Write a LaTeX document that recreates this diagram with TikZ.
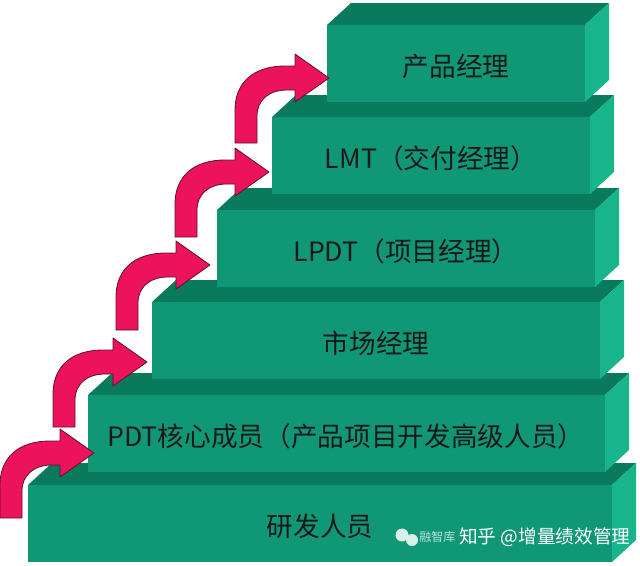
\documentclass[tikz,border=0pt]{standalone}
\usepackage{fontspec}
\setmainfont{Noto Sans CJK SC}
\usepackage{tikz}

\definecolor{frontgreen}{RGB}{16,152,118}
\definecolor{topgreen}{RGB}{10,122,92}
\definecolor{sidegreen}{RGB}{24,180,140}
\definecolor{arrowpink}{RGB}{236,18,92}
\definecolor{arrowline}{RGB}{90,20,45}

\begin{document}
\begin{tikzpicture}[x=0.75pt, y=-0.75pt,
	every node/.style={inner sep=0pt, font=\fontsize{20}{24}\selectfont, text=black!90},
	stair/.style={draw=none, fill=frontgreen},
	stairtop/.style={draw=none, fill=topgreen},
	stairside/.style={draw=none, fill=sidegreen},
	uparrow/.style={fill=arrowpink, draw=arrowline, line width=0.6pt, line join=round},
	watermark/.style={text=white, font=\fontsize{13}{15}\selectfont}]
				\useasboundingbox (0,0) rectangle (640,565);
				
				\foreach \l/\r/\t in {28/612/485, 88/605/395, 152/600/302, 217/595/210, 272/590/117, 327/585/25}{
					\path[stairtop] (\l,\t) -- (\l+24,\t-22) -- (\r+24,\t-22) -- (\r,\t) -- cycle;
					\path[stairside] (\r,\t) -- (\r+24,\t-22) -- (\r+24,\t+55) -- (\r,\t+77) -- cycle;
					\path[stair] (\l,\t) rectangle (\r,\t+77);
				}
				
				\node (pm) at (456,66) {产品经理};
				\node (lmt) at (431,158) {LMT（交付经理）};
				\node (lpdt) at (406,251) {LPDT（项目经理）};
				\node (mkt) at (376,343) {市场经理};
				\node (pdt) at (346,436) {PDT核心成员（产品项目开发高级人员）};
				\node (rd) at (320,526) {研发人员};
				
				\foreach \x/\y in {0/453, 53/362, 116/265, 175/172, 235/78}{
					\begin{scope}[shift={(\x,\y)}]
						\path[uparrow] (0,65) -- (0,32) .. controls (0,5) and (18,-12) .. (50,-12) -- (60,-12) -- (60,-24) -- (94,0) -- (60,24) -- (60,12) -- (52,12) .. controls (34,12) and (22,22) .. (22,38) -- (22,65) -- cycle;
					\end{scope}
				}
				
				\fill[white, opacity=0.85] (402,535) circle (6.5) (412,540) circle (6);
				\node[watermark, anchor=west, opacity=0.7, font=\fontsize{9}{11}\selectfont] (wx) at (419,537) {融智库};
				\node[watermark, anchor=west, font=\fontsize{14}{16}\selectfont] (zh) at (459,537) {知乎 @增量绩效管理};
				\end{tikzpicture}
\end{document}
